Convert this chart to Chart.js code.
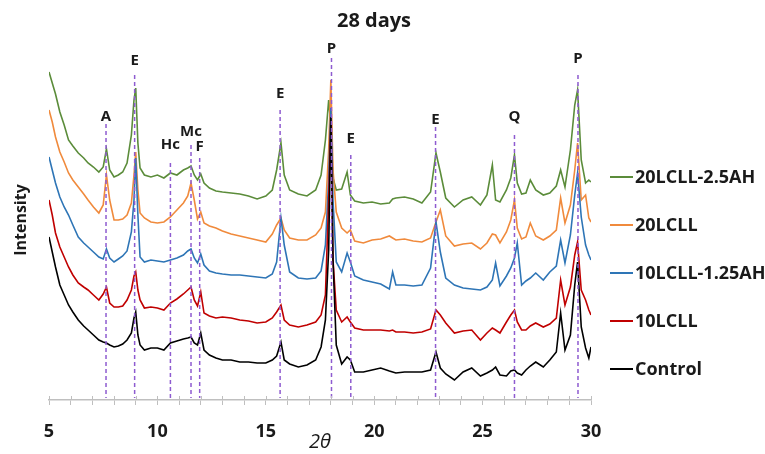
<!DOCTYPE html>
<html>
<head>
<meta charset="utf-8">
<script src="https://cdn.jsdelivr.net/npm/chart.js@4.4.0/dist/chart.umd.min.js"></script>
<style>
  html, body { margin: 0; padding: 0; background: #fff; }
  #wrap { width: 765px; height: 454px; }
</style>
</head>
<body>
<div id="wrap"><canvas id="xrd" width="765" height="454"></canvas></div>
<script>
// 2-theta positions (shared by all patterns)
var angles = [5.0, 5.15, 5.3, 5.5, 5.7, 5.9, 6.1, 6.35, 6.6, 6.8,
  7.05, 7.3, 7.5, 7.65, 7.8, 8.0, 8.2, 8.4, 8.6, 8.8,
  8.92, 9.0, 9.1, 9.2, 9.4, 9.7, 10.0, 10.3, 10.6, 10.9,
  11.2, 11.4, 11.55, 11.7, 11.85, 12.0, 12.15, 12.4, 12.7, 13.0,
  13.4, 13.8, 14.2, 14.6, 15.0, 15.3, 15.5, 15.7, 15.85, 16.1,
  16.5, 16.9, 17.3, 17.55, 17.75, 17.9, 18.0, 18.1, 18.25, 18.5,
  18.75, 18.9, 19.1, 19.5, 19.9, 20.3, 20.7, 20.85, 21.0, 21.4,
  21.8, 22.2, 22.6, 22.85, 23.05, 23.3, 23.7, 24.1, 24.5, 24.9,
  25.2, 25.45, 25.6, 25.8, 26.1, 26.3, 26.47, 26.6, 26.8, 27.0,
  27.2, 27.45, 27.8, 28.1, 28.4, 28.6, 28.8, 29.05, 29.25, 29.38,
  29.55, 29.75, 29.9, 30.0];

// intensities (offset patterns, arbitrary units)
var control = [163,148,133,115,105,95,88,80,74,70,
  65,60,58,57,55,53,54,56,60,67,
  82,88,65,55,50,52,52,50,57,59,
  61,62,63,57,55,67,50,45,42,40,
  40,38,38,37,37,40,44,58,40,36,
  33,35,40,53,80,150,283,140,55,36,
  43,40,28,28,30,32,29,28,27,28,
  28,28,30,48,32,26,20,28,32,24,
  27,30,33,25,24,29,30,27,25,30,
  34,38,33,40,48,87,50,65,115,138,
  73,52,42,53];
var lcll10 = [200,185,167,153,143,133,125,117,113,110,
  105,100,106,113,97,93,93,94,100,110,
  124,128,110,100,92,93,92,90,97,101,
  106,110,113,100,94,108,87,84,82,83,
  82,80,79,77,78,82,88,95,80,75,
  73,75,78,85,105,200,278,140,90,78,
  83,78,72,70,70,70,69,70,68,68,
  67,68,71,90,85,77,67,69,70,60,
  67,72,70,67,78,85,90,78,70,70,
  74,77,73,76,82,120,95,113,145,158,
  110,100,90,85];
var lcll10ah = [243,230,217,203,193,185,175,163,157,153,
  148,143,141,151,142,138,141,144,149,168,
  200,242,185,143,138,140,139,138,140,142,
  145,149,151,142,137,146,135,129,127,126,
  125,125,124,123,122,126,138,182,155,128,
  122,121,122,129,155,220,292,200,138,128,
  147,138,124,120,118,116,111,128,115,115,
  114,115,132,178,148,122,115,112,111,110,
  113,120,137,114,124,132,142,157,115,119,
  122,127,120,128,134,160,137,165,205,227,
  183,155,145,140];
var lcll20 = [290,278,263,248,238,227,220,213,206,200,
  193,187,195,225,200,180,180,181,185,197,
  225,248,210,187,182,178,177,178,183,190,
  197,204,217,200,181,188,177,174,172,169,
  166,164,162,160,158,166,175,182,170,162,
  160,160,165,172,188,250,320,230,188,172,
  167,170,159,157,160,161,164,162,160,161,
  159,158,162,178,190,164,154,156,157,151,
  157,166,165,157,168,180,200,172,161,163,
  177,164,160,164,170,202,177,195,230,257,
  200,205,182,178];
var lcll20ah = [328,317,306,288,275,260,254,247,242,237,
  233,228,233,251,230,223,225,228,237,265,
  300,312,257,232,225,223,225,222,227,225,
  230,232,234,225,220,226,217,212,209,208,
  207,206,204,201,204,210,230,257,225,210,
  206,204,210,225,260,300,275,222,210,211,
  228,205,199,197,198,196,197,201,202,203,
  201,197,208,247,228,202,193,200,203,195,
  205,235,200,198,210,222,245,217,206,207,
  220,210,205,207,214,230,213,250,295,310,
  240,217,220,218];

var seriesNames = ["Control", "10LCLL", "10LCLL-1.25AH", "20LCLL", "20LCLL-2.5AH"];
var seriesColors = ["#000000", "#c00000", "#2e75b6", "#f08a3c", "#5b8c3a"];
var seriesData = [control, lcll10, lcll10ah, lcll20, lcll20ah];

// phase markers
var peakAngles = [7.63, 8.95, 10.6, 11.55, 11.95, 15.66, 18.03, 18.92, 22.83, 26.47, 29.4];
var peakNames  = ["A", "E", "Hc", "Mc", "F", "E", "P", "E", "E", "Q", "P"];
var peakLabelLevel = [283, 339, 255, 268, 253, 306, 351, 261, 280, 283, 341];
var peakLineTop    = [276, 325, 237, 255, 242, 290, 342, 245, 273, 265, 325];

function toPoints(arr){
  var pts = [];
  for (var i = 0; i < arr.length; i++) {
    pts.push({x: angles[i], y: arr[i]});
  }
  return pts;
}

var datasets = [];
for (var i = 0; i < seriesData.length; i++) {
  datasets.push({
    label: seriesNames[i],
    data: toPoints(seriesData[i]),
    borderColor: seriesColors[i],
    backgroundColor: seriesColors[i],
    borderWidth: 1.6,
    pointRadius: 0,
    tension: 0,
    fill: false
  });
}

var font = "'Open Sans', 'Liberation Sans', sans-serif";

var extras = {
  id: 'extras',
  afterDatasetsDraw: function(chart){
    var c = chart.ctx, x = chart.scales.x, y = chart.scales.y;
    c.save();
    // dashed marker lines + letters
    c.strokeStyle = '#8e5bd0';
    c.lineWidth = 1.5;
    c.setLineDash([4, 3]);
    for (var i = 0; i < peakAngles.length; i++) {
      var px = x.getPixelForValue(peakAngles[i]);
      c.beginPath();
      c.moveTo(px, y.getPixelForValue(peakLineTop[i]));
      c.lineTo(px, y.getPixelForValue(2));
      c.stroke();
    }
    c.setLineDash([]);
    c.fillStyle = '#1a1a1a';
    c.font = 'bold 15px ' + font;
    c.textAlign = 'center';
    c.textBaseline = 'middle';
    for (var j = 0; j < peakAngles.length; j++) {
      c.fillText(peakNames[j], x.getPixelForValue(peakAngles[j]), y.getPixelForValue(peakLabelLevel[j]));
    }
    c.restore();
  },
  afterDraw: function(chart){
    var c = chart.ctx, x = chart.scales.x;
    c.save();
    // small tick marks above the axis
    c.strokeStyle = '#bfbfbf';
    c.lineWidth = 1;
    x.ticks.forEach(function(t){
      var px = Math.round(x.getPixelForValue(t.value)) + 0.5;
      c.beginPath();
      c.moveTo(px, x.top - 4);
      c.lineTo(px, x.top);
      c.stroke();
    });
    c.fillStyle = '#1a1a1a';
    c.textAlign = 'center';
    c.textBaseline = 'middle';
    // x axis title
    c.font = 'italic 20px ' + font;
    c.fillText('2θ', 320, 442);
    // chart title
    c.font = 'bold 20px ' + font;
    c.fillText('28 days', 374, 21);
    // legend, top entry is last series
    c.font = 'bold 18px ' + font;
    c.textAlign = 'left';
    for (var k = 0; k < seriesNames.length; k++) {
      var idx = seriesNames.length - 1 - k;
      var ly = 177 + k * 48;
      c.strokeStyle = seriesColors[idx];
      c.lineWidth = 2;
      c.beginPath();
      c.moveTo(610, ly);
      c.lineTo(633, ly);
      c.stroke();
      c.fillStyle = '#1a1a1a';
      c.fillText(seriesNames[idx], 635, ly + 1);
    }
    c.restore();
  }
};

var chart = new Chart(document.getElementById("xrd"), {
  type: 'line',
  data: { datasets: datasets },
  options: {
    responsive: false,
    animation: false,
    devicePixelRatio: 1,
    layout: { padding: { left: 8, right: 174, top: 40, bottom: 0 } },
    plugins: {
      legend: { display: false },
      title: { display: false },
      tooltip: { enabled: false }
    },
    scales: {
      x: {
        type: 'linear',
        min: 5,
        max: 30,
        ticks: {
          stepSize: 1,
          autoSkip: false,
          maxRotation: 0,
          padding: 16,
          color: '#1a1a1a',
          font: { family: font, size: 18, weight: 'bold' },
          callback: function(v){ return v % 5 === 0 ? v : ''; }
        },
        grid: { drawOnChartArea: false, drawTicks: true, tickLength: 5, color: '#bfbfbf' },
        border: { color: '#bfbfbf', width: 1.5 },
        afterFit: function(s){ s.height = 54; }
      },
      y: {
        min: 0,
        max: 360,
        ticks: { display: false },
        grid: { display: false },
        border: { display: false },
        title: {
          display: true,
          text: 'Intensity',
          color: '#1a1a1a',
          font: { family: font, size: 16, weight: 'bold' },
          padding: { top: 4, bottom: 4 }
        },
        afterFit: function(s){ s.width = 41; }
      }
    }
  },
  plugins: [extras]
});
</script>
</body>
</html>
